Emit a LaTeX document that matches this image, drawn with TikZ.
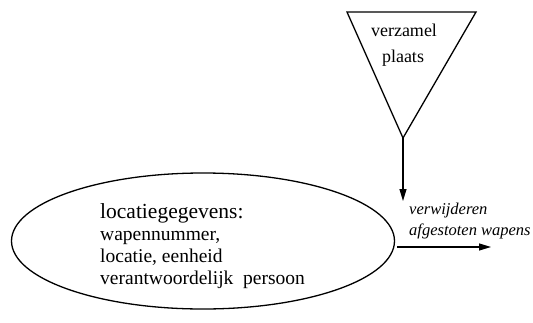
\documentclass[tikz,border=0pt]{standalone}
\usepackage{fontspec}
\setmainfont{Liberation Serif}
\usetikzlibrary{shapes.geometric,arrows.meta}

\newcommand{\fsz}[1]{\fontsize{#1}{#1}\selectfont}

\begin{document}
\begin{tikzpicture}[x=1pt,y=-1pt,
  shapeline/.style={line width=1.3pt},
  flow/.style={line width=1.1pt,-{Triangle[length=12pt,width=7pt]}},
  txt/.style={inner sep=0pt,anchor=base west,font=\fsz{19.5}},
  head/.style={inner sep=0pt,anchor=base west,font=\fsz{21.5}},
  lbl/.style={inner sep=0pt,anchor=base west,font=\fsz{16.5}\itshape},
  tri/.style={inner sep=0pt,anchor=base,font=\fsz{18}}]
\useasboundingbox (0,0) rectangle (533,322);

% collection point (inverted triangle)
\coordinate (tl) at (347,12);
\coordinate (tr) at (476,12);
\coordinate (apex) at (403,138);
\draw[shapeline,line join=miter] (tl) -- (tr) -- (apex) -- cycle;
\node[tri] (v1) at (404,36) {verzamel};
\node[tri] (v2) at (403,62) {plaats};

% location data store
\node[shapeline,draw,ellipse,minimum width=383pt,minimum height=136pt,inner sep=0pt] (loc) at (203,241) {};
\node[head] (h) at (100,218) {locatiegegevens:};
\node[txt] (l1) at (100,240) {wapennummer,};
\node[txt] (l2) at (100,262) {locatie, eenheid};
\node[txt] (l3) at (100,284) {verantwoordelijk\hspace{0.25em} persoon};

% flows
\coordinate (vend) at (403,201);
\draw[flow] (apex) -- (vend);
\coordinate (hstart) at (397,247);
\coordinate (hend) at (491,247);
\draw[flow] (hstart) -- (hend);
\node[lbl] (f1) at (409,214) {verwijderen};
\node[lbl] (f2) at (409,235) {afgestoten wapens};
\end{tikzpicture}
\end{document}
